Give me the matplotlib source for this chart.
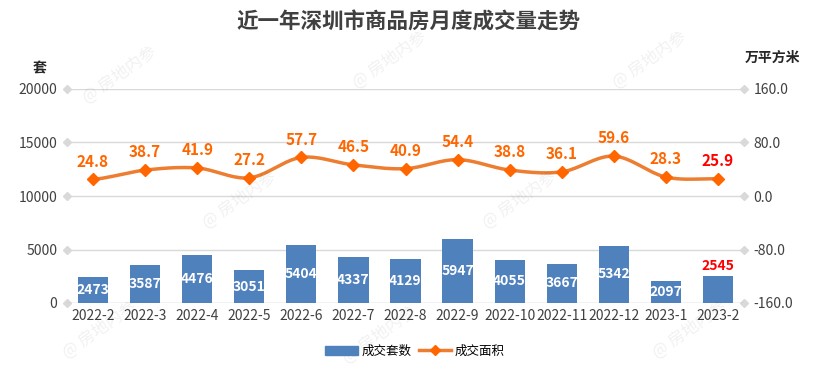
import numpy as np
import matplotlib
matplotlib.use("Agg")
import matplotlib.pyplot as plt

plt.rcParams['font.family'] = ['Noto Sans CJK SC', 'DejaVu Sans']

months = ["2022-2", "2022-3", "2022-4", "2022-5", "2022-6", "2022-7", "2022-8",
          "2022-9", "2022-10", "2022-11", "2022-12", "2023-1", "2023-2"]
units = [2473, 3587, 4476, 3051, 5404, 4337, 4129, 5947, 4055, 3667, 5342, 2097, 2545]
area = [24.8, 38.7, 41.9, 27.2, 57.7, 46.5, 40.9, 54.4, 38.8, 36.1, 59.6, 28.3, 25.9]
left_ticks = [0, 5000, 10000, 15000, 20000]
right_ticks = [-160, -80, 0, 80, 160]

BAR = "#4f81bd"
LINE = "#ed7d31"
LBL = "#ff6600"
RED = "#ff0000"
GRID = "#d9d9d9"

fig = plt.figure(figsize=(8.16, 3.88), dpi=100)
ax = fig.add_axes([67/816, 1-303/388, (744-67)/816, (303-89)/388])
ax2 = ax.twinx()

x = np.arange(len(months))
ax.set_xlim(-0.5, len(months)-0.5)
ax.set_ylim(0, 20000)
ax2.set_ylim(-160, 160)

for t in left_ticks[1:]:
    ax.axhline(t, color=GRID, lw=1, zorder=0)
for t in left_ticks:
    ax.plot([-0.5, len(months)-0.5], [t, t], ls='none', marker='D', ms=4,
            color=GRID, clip_on=False, zorder=1)
ax.axhline(0, color="#bfbfbf", lw=1, zorder=2)

bars = ax.bar(x, units, width=0.58, color=BAR, zorder=3)
for i, v in enumerate(units):
    if i == len(units)-1:
        ax.text(i, v+250, str(v), ha='center', va='bottom', color=RED,
                fontsize=10, fontweight='bold', zorder=5)
    else:
        ax.text(i, v/2, str(v), ha='center', va='center', color='white',
                fontsize=10, fontweight='bold', zorder=5)

# smooth line (Catmull-Rom through data points)
xs, ys = [], []
p = np.array(area, dtype=float)
pe = np.concatenate([[p[0]], p, [p[-1]]])
for i in range(len(p)-1):
    p0, p1, p2, p3 = pe[i], pe[i+1], pe[i+2], pe[i+3]
    t = np.linspace(0, 1, 20, endpoint=False)
    yy = 0.5*((2*p1) + (-p0+p2)*t + (2*p0-5*p1+4*p2-p3)*t**2 + (-p0+3*p1-3*p2+p3)*t**3)
    xs.extend(i + t)
    ys.extend(yy)
xs.append(len(p)-1)
ys.append(p[-1])
ax2.plot(xs, ys, color=LINE, lw=2.5, zorder=4)
ax2.plot(x, area, ls='none', marker='D', ms=6, color=LBL, zorder=5)
for i, v in enumerate(area):
    c = RED if i == len(area)-1 else LBL
    ax2.annotate(f"{v:.1f}", (i, v), xytext=(0, 7), textcoords='offset points',
                 ha='center', va='bottom', color=c, fontsize=11, fontweight='bold')

ax.set_yticks(left_ticks)
ax.set_yticklabels([str(t) for t in left_ticks], fontsize=10, color="#404040")
ax2.set_yticks(right_ticks)
ax2.set_yticklabels([f"{t:.1f}" for t in right_ticks], fontsize=10, color="#404040")
ax.set_xticks(x)
ax.set_xticklabels(months, fontsize=10, color="#404040")
for a in (ax, ax2):
    a.tick_params(length=0, pad=7)
    for s in a.spines.values():
        s.set_visible(False)
ax.tick_params(axis='x', pad=4)
ax.set_zorder(ax2.get_zorder()-1)
ax.patch.set_visible(False)

fig.text(408/816, 1-22/388, "近一年深圳市商品房月度成交量走势", ha='center', va='center',
         fontsize=15.5, fontweight='bold', color="#404040")
fig.text(40/816, 1-68/388, "套", ha='center', va='center', fontsize=10,
         fontweight='bold', color="#262626")
fig.text(772/816, 1-58/388, "万平方米", ha='center', va='center', fontsize=10,
         fontweight='bold', color="#262626")

from matplotlib.patches import Patch
from matplotlib.lines import Line2D
handles = [Patch(color=BAR), Line2D([], [], color=LINE, lw=2.5, marker='D', ms=5, markerfacecolor=LBL, markeredgecolor=LBL)]
fig.legend(handles, ["成交套数", "成交面积"], loc='center', bbox_to_anchor=(415/816, 1-351/388),
           ncol=2, frameon=False, fontsize=9, handlelength=2.6, columnspacing=0.6, handletextpad=0.3)

# faint watermarks
for (wx, wy) in [(120, 75), (390, 60), (650, 60), (240, 200), (520, 200), (100, 330), (380, 335), (690, 330)]:
    fig.text(wx/816, 1-wy/388, "@ 房地内参", rotation=35, fontsize=12, color="#000000",
             alpha=0.06, ha='center', va='center')

fig.savefig("out.png", dpi=100)
